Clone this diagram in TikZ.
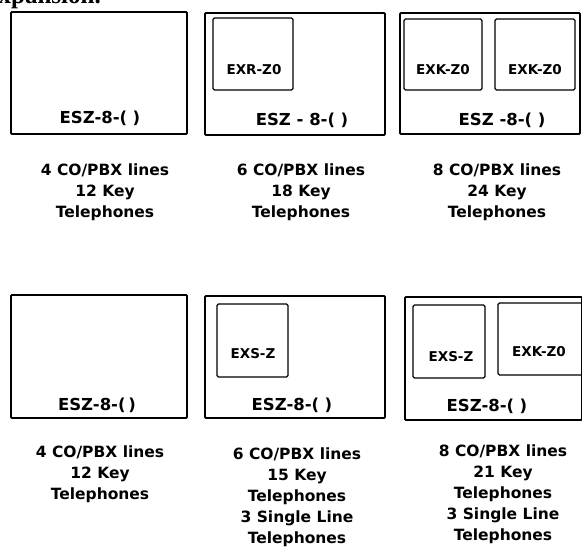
\documentclass[tikz,border=0pt]{standalone}
\usepackage{fontspec}
\setmainfont{DejaVu Sans}
\newfontfamily\headserif{Liberation Serif}
\begin{document}
\begin{tikzpicture}[x=1pt,y=-1pt,
  outerbox/.style={draw,line width=1.8pt,rounded corners=1pt},
  innerbox/.style={draw,line width=1.4pt,rounded corners=1.5pt},
  esz/.style={font=\fontsize{16.5}{16.5}\selectfont\bfseries,inner sep=0pt},
  exlab/.style={font=\fontsize{13.5}{13.5}\selectfont\bfseries,inner sep=0pt},
  caption/.style={font=\fontsize{15.5}{21}\selectfont\bfseries,align=center,inner sep=0pt,anchor=north}]
\useasboundingbox (0,0) rectangle (582,560);
\clip (0,0) rectangle (582,560);
% cut-off heading
\node[anchor=base east,inner sep=0pt,font=\headserif\fontsize{25}{25}\selectfont\bfseries] (head) at (101,3) {expansion.};
% top row
\draw[outerbox] (11,12) rectangle (187,134);
\node[esz] (t1) at (100,118) {ESZ-8-(\,\,)};
\draw[outerbox] (205,13) rectangle (385,135);
\draw[innerbox] (213,18) rectangle (293,90);
\node[exlab] (t2a) at (254,70) {EXR-Z0};
\node[esz] (t2) at (302,120) {ESZ - 8-(\,\,)};
\draw[outerbox] (400,13) rectangle (580,134);
\draw[innerbox] (404,19) rectangle (482,90);
\draw[innerbox] (495,19) rectangle (575,90);
\node[exlab] (t3a) at (443,70) {EXK-Z0};
\node[exlab] (t3b) at (535,70) {EXK-Z0};
\node[esz] (t3) at (502,120) {ESZ -8-(\,\,)};
\node[caption] (c1) at (105,164) {4 CO/PBX lines\\12 Key\\Telephones};
\node[caption] (c2) at (301,164) {6 CO/PBX lines\\18 Key\\Telephones};
\node[caption] (c3) at (497,164) {8 CO/PBX lines\\24 Key\\Telephones};
% bottom row
\draw[outerbox] (11,295) rectangle (187,418);
\node[esz] (b1) at (97,405) {ESZ-8-(\,)};
\draw[outerbox] (205,296) rectangle (385,418);
\draw[innerbox] (217,304) rectangle (288,377);
\node[exlab] (b2a) at (253,354) {EXS-Z};
\node[esz] (b2) at (292,405) {ESZ-8-(\,\,)};
\draw[outerbox] (405,297) rectangle (582,420);
\draw[innerbox] (413,305) rectangle (485,378);
\draw[innerbox] (498,303) rectangle (584,375);
\node[exlab] (b3a) at (451,357) {EXS-Z};
\node[exlab] (b3b) at (539,352) {EXK-Z0};
\node[esz] (b3) at (487,406) {ESZ-8-(\,\,)};
\node[caption] (d1) at (100,446) {4 CO/PBX lines\\12 Key\\Telephones};
\node[caption] (d2) at (297,448) {6 CO/PBX lines\\15 Key\\Telephones\\3 Single Line\\Telephones};
\node[caption] (d3) at (503,445) {8 CO/PBX lines\\21 Key\\Telephones\\3 Single Line\\Telephones};
\end{tikzpicture}
\end{document}
